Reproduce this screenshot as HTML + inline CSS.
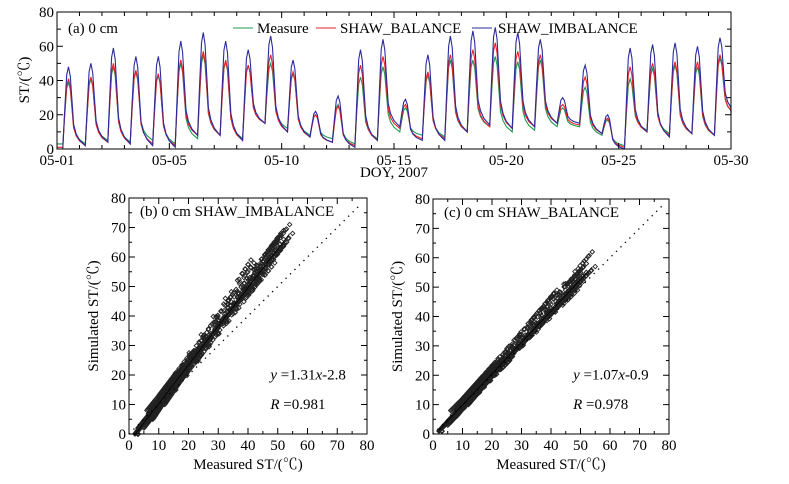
<!DOCTYPE html>
<html><head><meta charset="utf-8"><style>
html,body{margin:0;padding:0;background:#fff;}
svg{display:block;font-family:"Liberation Serif","Noto Serif CJK SC",serif;}
</style></head><body>
<svg id="root" width="789" height="484" viewBox="0 0 789 484"></svg>
<script>
// ---- Data (daily values) ----
const dayLabels = ["05-01","05-05","05-10","05-15","05-20","05-25","05-30"];
const dayTicks = [0,5,10,15,20,25,30];
const peakImb = [48,50,59,54,54,63,68,63,58,66,52,22,31,58,64,29,55,66,69,71,68,64,30,49,20,59,61,62,60,65];
const peakBal = [41,42,50,46,44,52,57,52,49,55,45,20,25,49,54,26,45,55,58,62,57,55,26,42,18,48,50,51,51,55];
const peakMea = [39,41,48,45,43,50,55,51,49,50,44,20,26,42,48,24,43,52,52,54,51,52,24,36,17,41,47,49,48,53];
const minImb = [0,2,4,3,2,1,8,8,5,15,10,7,4,1,5,13,5,5,10,14,12,13,15,15,9,0,10,7,9,8,21];
const minBal = [1,2,4,3,3,2,8,8,5,15,10,7,4,2,5,12,6,6,10,13,12,13,15,14,9,1,10,8,9,8,20];
const minMea = [3,3,5,4,5,3,6,8,6,15,12,8,6,3,6,10,8,7,10,13,10,11,13,13,8,2,11,9,9,8,20];
const yTicksTop = [0,20,40,60,80];
const scatTicks = [0,10,20,30,40,50,60,70,80];
const fitB = {a:1.31,b:-2.8,r:0.981};
const fitC = {a:1.07,b:-0.9,r:0.978};

const NS="http://www.w3.org/2000/svg";
const root=document.getElementById('root');
function mk(tag,attrs,parent){const e=document.createElementNS(NS,tag);for(const k in attrs)e.setAttribute(k,attrs[k]);(parent||root).appendChild(e);return e;}

function series(peaks,mins){
  const pts=[[0,mins[0]]];
  for(let k=0;k<peaks.length;k++){
    const a=mins[k],p=peaks[k],n=mins[k+1];
    pts.push([k+0.26,a]);
    pts.push([k+0.34,a+0.45*(p-a)]);
    pts.push([k+0.43,a+0.9*(p-a)]);
    pts.push([k+0.51,p]);
    pts.push([k+0.59,n+0.88*(p-n)]);
    pts.push([k+0.67,n+0.55*(p-n)]);
    pts.push([k+0.74,n+0.27*(p-n)]);
    pts.push([k+0.85,n+0.15*(p-n)]);
    pts.push([k+1.0,n+0.07*(p-n)]);
  }
  pts.push([30,mins[mins.length-1]]);
  return pts;
}
function sample(pts,tt){for(let i=1;i<pts.length;i++){if(pts[i][0]>=tt){const a=pts[i-1],b=pts[i];const f=(tt-a[0])/((b[0]-a[0])||1);return a[1]+f*(b[1]-a[1]);}}return pts[pts.length-1][1];}

// ---- Top panel ----
const T={x0:57,x1:731,y0:149,y1:12};
const tx=d=>T.x0+(d/30)*(T.x1-T.x0);
const ty=v=>T.y0-(v/80)*(T.y0-T.y1);
const topG=mk('g',{});
const sM=series(peakMea,minMea),sB=series(peakBal,minBal),sI=series(peakImb,minImb);
[[sM,'#1e9a52','measure-line'],[sB,'#e8202a','shaw-balance-line'],[sI,'#2b2b9c','shaw-imbalance-line']].forEach(([s,c,n])=>{
  const p=mk('polyline',{points:s.map(q=>tx(q[0]).toFixed(1)+','+ty(Math.max(0,q[1])).toFixed(1)).join(' '),fill:'none',stroke:c,'stroke-width':1.1},topG);
  
  
});
mk('rect',{x:T.x0,y:T.y1,width:T.x1-T.x0,height:T.y0-T.y1,fill:'none',stroke:'#000','stroke-width':1,},topG);
for(let d=0;d<=30;d++){const L=dayTicks.includes(d)?6:4;mk('line',{x1:tx(d),x2:tx(d),y1:T.y0,y2:T.y0-L,stroke:'#000'},topG);mk('line',{x1:tx(d),x2:tx(d),y1:T.y1,y2:T.y1+L,stroke:'#000'},topG);}
dayTicks.forEach((d,i)=>{const e=mk('text',{x:tx(d),y:T.y0+16,'font-size':15,'text-anchor':'middle'},topG);e.textContent=dayLabels[i];});
for(let v=0;v<=80;v+=10){const L=v%20?4:6;mk('line',{x1:T.x0,x2:T.x0+L,y1:ty(v),y2:ty(v),stroke:'#000'},topG);mk('line',{x1:T.x1,x2:T.x1-L,y1:ty(v),y2:ty(v),stroke:'#000'},topG);}
yTicksTop.forEach(v=>{const e=mk('text',{x:T.x0-3,y:ty(v)+5,'font-size':15,'text-anchor':'end'},topG);e.textContent=v;});
let lbl=mk('text',{x:0,y:0,'font-size':15,'text-anchor':'middle',transform:'translate(29,80) rotate(-90)',},topG);lbl.textContent='ST/(℃)';
lbl=mk('text',{x:394,y:177,'font-size':15,'text-anchor':'middle',},topG);lbl.textContent='DOY, 2007';
lbl=mk('text',{x:68,y:33,'font-size':15,},topG);lbl.textContent='(a) 0 cm';
const leg=[[233,257,'#1e9a52','Measure'],[316,340,'#e8202a','SHAW_BALANCE'],[472,498,'#2b2b9c','SHAW_IMBALANCE']];
leg.forEach(([x1,xt,c,l])=>{const g=mk('g',{},topG);mk('line',{x1:x1,x2:x1+20,y1:28,y2:28,stroke:c,'stroke-width':1.1},g);const e=mk('text',{x:xt,y:33,'font-size':15},g);e.textContent=l;});

// ---- Scatter panels ----
function scatter(P,sim,fit,title,name){
  const g=mk('g',{});
  const sx=v=>P.x0+(v/80)*(P.x1-P.x0), sy=v=>P.y0-(v/80)*(P.y0-P.y1);
  for(let i=0;i<1440;i++){const tt=i/48+0.01;const m=sample(sM,tt),s=sample(sim,tt);if(m<0.5||s<0)continue;const X=sx(m),Y=sy(s);
    const d=mk('path',{d:`M${X-2.2},${Y}L${X},${Y-2.2}L${X+2.2},${Y}L${X},${Y+2.2}Z`,fill:'none',stroke:'#222','stroke-width':0.9},g);
    
    }
  mk('line',{x1:sx(0),y1:sy(0),x2:sx(78),y2:sy(78),stroke:'#000','stroke-width':1.3,'stroke-dasharray':'1.3 5',},g);
  mk('line',{x1:sx(2),y1:sy(fit.a*2+fit.b),x2:sx(54),y2:sy(fit.a*54+fit.b),stroke:'#000','stroke-width':0.8,},g);
  mk('rect',{x:P.x0,y:P.y1,width:P.x1-P.x0,height:P.y0-P.y1,fill:'none',stroke:'#000',},g);
  for(let v=0;v<=80;v+=5){const L=v%10?3:6;
    mk('line',{x1:sx(v),x2:sx(v),y1:P.y0,y2:P.y0-L,stroke:'#000'},g);mk('line',{x1:sx(v),x2:sx(v),y1:P.y1,y2:P.y1+L,stroke:'#000'},g);
    mk('line',{x1:P.x0,x2:P.x0+L,y1:sy(v),y2:sy(v),stroke:'#000'},g);mk('line',{x1:P.x1,x2:P.x1-L,y1:sy(v),y2:sy(v),stroke:'#000'},g);}
  scatTicks.forEach(v=>{let a=mk('text',{x:sx(v),y:P.y0+16,'font-size':15,'text-anchor':'middle'},g);a.textContent=v;
    a=mk('text',{x:P.x0-3,y:sy(v)+5,'font-size':15,'text-anchor':'end'},g);a.textContent=v;});
  let a=mk('text',{x:(P.x0+P.x1)/2,y:P.y0+35,'font-size':15,'text-anchor':'middle',},g);a.textContent='Measured ST/(℃)';
  a=mk('text',{x:0,y:0,'font-size':15,'text-anchor':'middle',transform:`translate(${P.x0-31},${(P.y0+P.y1)/2}) rotate(-90)`,},g);a.textContent='Simulated ST/(℃)';
  a=mk('text',{x:P.x0+11,y:P.y1+18,'font-size':15,},g);a.textContent=title;
  a=mk('text',{x:sx(47.5),y:sy(18.5),'font-size':15,},g);
  let s1=mk('tspan',{'font-style':'italic'},a);s1.textContent='y';
  let s2=mk('tspan',{},a);s2.textContent=' ='+fit.a.toFixed(2);
  let s3=mk('tspan',{'font-style':'italic'},a);s3.textContent='x';
  let s4=mk('tspan',{},a);s4.textContent=fit.b.toFixed(1);
  a=mk('text',{x:sx(47.5),y:sy(8.5),'font-size':15,},g);
  let r1=mk('tspan',{'font-style':'italic'},a);r1.textContent='R';
  let r2=mk('tspan',{},a);r2.textContent=' ='+fit.r.toFixed(3);
}
scatter({x0:129,x1:367,y0:434,y1:198},sI,fitB,'(b) 0 cm SHAW_IMBALANCE','scatter-panel-b');
scatter({x0:433,x1:669,y0:434,y1:199},sB,fitC,'(c) 0 cm SHAW_BALANCE','scatter-panel-c');
</script>
</body></html>
